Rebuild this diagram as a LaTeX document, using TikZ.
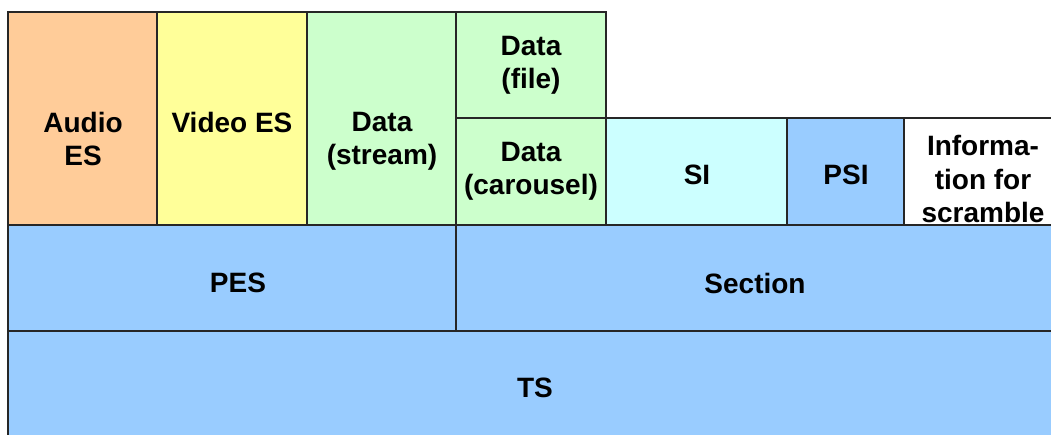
\documentclass[tikz,border=0pt]{standalone}
\usepackage{fontspec}
\setmainfont{Liberation Sans}

\definecolor{audiofill}{HTML}{FFCC99}
\definecolor{videofill}{HTML}{FFFF99}
\definecolor{datafill}{HTML}{CCFFCC}
\definecolor{sifill}{HTML}{CCFFFF}
\definecolor{layerfill}{HTML}{99CCFF}

\tikzset{
	box/.style={draw=black!85, line width=0.9pt},
	lbl/.style={font=\bfseries\fontsize{21}{25}\selectfont, align=center, inner sep=0pt},
}

\begin{document}
\begin{tikzpicture}[x=0.75pt,y=-0.75pt]
	\clip (0,0) rectangle (1051,435);
	\fill[white] (0,0) rectangle (1051,435);

	% transport layer
	\draw[box, fill=layerfill] (8,331) rectangle (1060,445);
	\node[lbl] (ts) at (535,388) {TS};

	% PES and section layer
	\draw[box, fill=layerfill] (8,225) rectangle (456,331);
	\node[lbl] (pes) at (238,283) {PES};
	\draw[box, fill=layerfill] (456,225) rectangle (1060,331);
	\node[lbl] (section) at (755,283) {Section};

	% elementary streams
	\draw[box, fill=audiofill] (8,12) rectangle (157,225);
	\node[lbl, anchor=north] (audio) at (83,112) {Audio\\ES};
	\draw[box, fill=videofill] (157,12) rectangle (307,225);
	\node[lbl, anchor=north] (video) at (232,112) {Video ES};
	\draw[box, fill=datafill] (307,12) rectangle (456,225);
	\node[lbl, anchor=north] (stream) at (382,112) {Data\\(stream)};
	\draw[box, fill=datafill] (456,12) rectangle (606,118);
	\node[lbl] (file) at (531,65) {Data\\(file)};
	\draw[box, fill=datafill] (456,118) rectangle (606,225);
	\node[lbl] (carousel) at (531,171) {Data\\(carousel)};

	% tables
	\draw[box, fill=sifill] (606,118) rectangle (787,225);
	\node[lbl] (si) at (697,175) {SI};
	\draw[box, fill=layerfill] (787,118) rectangle (904,225);
	\node[lbl] (psi) at (846,175) {PSI};
	\draw[box, fill=white] (904,118) rectangle (1060,225);
	\node[lbl] (scramble) at (983,179) {Informa-\\tion for\\scramble};
\end{tikzpicture}
\end{document}
